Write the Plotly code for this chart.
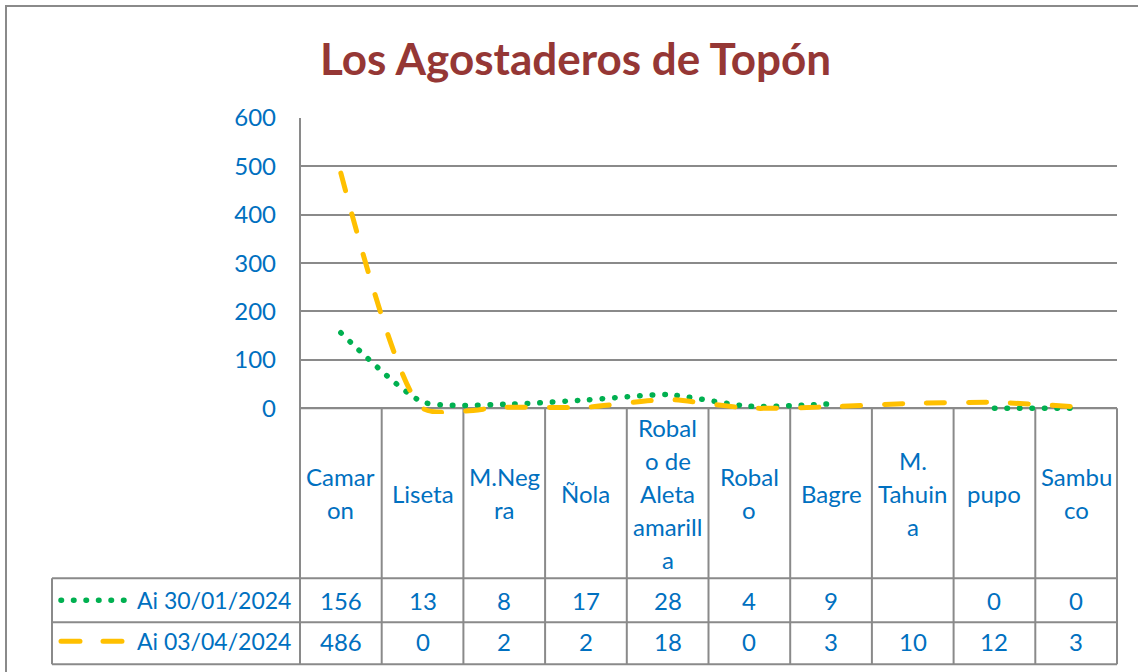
import plotly.graph_objects as go

# ---------------- data ----------------
CATEGORIES = ["Camaron", "Liseta", "M.Negra", "Ñola", "Robalo de Aleta amarilla",
              "Robalo", "Bagre", "M. Tahuina", "pupo", "Sambuco"]
CATEGORY_LINES = [["Camar", "on"], ["Liseta"], ["M.Neg", "ra"], ["Ñola"],
                  ["Robal", "o de", "Aleta", "amarill", "a"], ["Robal", "o"],
                  ["Bagre"], ["M.", "Tahuin", "a"], ["pupo"], ["Sambu", "co"]]
SERIES_NAMES = ["Ai 30/01/2024", "Ai 03/04/2024"]
AI_30_01_2024 = [156, 13, 8, 17, 28, 4, 9, None, 0, 0]
AI_03_04_2024 = [486, 0, 2, 2, 18, 0, 3, 10, 12, 3]
Y_TICKS = [0, 100, 200, 300, 400, 500, 600]

# ---------------- layout geometry (pixels) ----------------
W, H = 1138, 672
L, R, T, ZERO = 300, 1117, 118, 408
Y_MIN, Y_MAX = -12, 600
PX_PER_UNIT = (ZERO - T) / Y_MAX
B = ZERO - Y_MIN * PX_PER_UNIT          # bottom of plotting area (slightly below 0)
PW, PH = R - L, B - T

def px(x):
    return (x - L) / PW

def py(y):
    return (B - y) / PH

BLUE = "#0070C0"
GRID = "#8A8A8A"
GREEN = "#00B050"
YELLOW = "#FFC000"
FONT = "Lato"
FS = 24
GREEN_DASH = "0.5px,12px"
YELLOW_DASH = "18px,24px"

n = len(CATEGORIES)
x_idx = list(range(n))

fig = go.Figure()
fig.add_trace(go.Scatter(x=x_idx, y=AI_30_01_2024, mode="lines", name=SERIES_NAMES[0],
                         line=dict(color=GREEN, width=5.5, dash=GREEN_DASH, shape="spline",
                                   smoothing=0.6),
                         connectgaps=False, showlegend=False))
fig.add_trace(go.Scatter(x=x_idx, y=AI_03_04_2024, mode="lines", name=SERIES_NAMES[1],
                         line=dict(color=YELLOW, width=5, dash=YELLOW_DASH, shape="spline",
                                   smoothing=0.6),
                         connectgaps=False, showlegend=False))

shapes = []
def hline(y, x0, x1, w=2):
    shapes.append(dict(type="line", xref="paper", yref="paper", x0=px(x0), x1=px(x1),
                       y0=py(y), y1=py(y), line=dict(color=GRID, width=w), layer="below"))
def vline(x, y0, y1, w=2):
    shapes.append(dict(type="line", xref="paper", yref="paper", x0=px(x), x1=px(x),
                       y0=py(y0), y1=py(y1), line=dict(color=GRID, width=w), layer="below"))

# outer chart border
shapes.append(dict(type="rect", xref="paper", yref="paper", x0=px(6), x1=px(1160),
                   y0=py(690), y1=py(6), line=dict(color=GRID, width=2), layer="below"))

ROW1, ROW2, ROW3 = 578, 622, 664
LEG_L = 52
# table lines
vline(L, T, ROW3)
vline(R, ZERO, ROW3)
for i in range(1, n):
    vline(L + i * PW / n, ZERO, ROW3)
vline(LEG_L, ROW1, ROW3)
hline(ZERO, L, R)
for y in (ROW1, ROW2, ROW3):
    hline(y, LEG_L, R)

# legend keys
shapes.append(dict(type="line", xref="paper", yref="paper", x0=px(61), x1=px(128),
                   y0=py(600), y1=py(600), line=dict(color=GREEN, width=5.5, dash=GREEN_DASH)))
shapes.append(dict(type="line", xref="paper", yref="paper", x0=px(61), x1=px(122),
                   y0=py(641), y1=py(641), line=dict(color=YELLOW, width=5, dash="19px,23px")))

annotations = []
# title
annotations.append(dict(text="<b>Los Agostaderos de Topón</b>", xref="paper", yref="paper",
                        x=px(575), y=py(58), showarrow=False, xanchor="center", yanchor="middle",
                        font=dict(family=FONT, size=44, color="#953735")))
# category labels
LINE_STEP = 33
CELL_MID = (ZERO + ROW1) / 2
for i, lines in enumerate(CATEGORY_LINES):
    k = len(lines)
    for j, t in enumerate(lines):
        yy = CELL_MID + (j - (k - 1) / 2) * LINE_STEP
        annotations.append(dict(text=t, xref="x", yref="paper", x=i, y=py(yy), showarrow=False,
                                xanchor="center", yanchor="middle",
                                font=dict(family=FONT, size=FS, color=BLUE)))
# value rows
for series, name, yc in ((AI_30_01_2024, SERIES_NAMES[0], 600),
                         (AI_03_04_2024, SERIES_NAMES[1], 641)):
    annotations.append(dict(text=name, xref="paper", yref="paper", x=px(293), y=py(yc),
                            showarrow=False, xanchor="right", yanchor="middle",
                            font=dict(family=FONT, size=23, color=BLUE)))
    for i, v in enumerate(series):
        annotations.append(dict(text="" if v is None else str(v), xref="x", yref="paper",
                                x=i, y=py(yc), showarrow=False, xanchor="center",
                                yanchor="middle", font=dict(family=FONT, size=FS, color=BLUE)))

fig.update_layout(
    width=W, height=H,
    margin=dict(l=L, r=W - R, t=T, b=H - B, pad=0),
    paper_bgcolor="white", plot_bgcolor="rgba(0,0,0,0)",
    xaxis=dict(range=[-0.5, n - 0.5], showgrid=False, zeroline=False, showticklabels=False,
               showline=False, fixedrange=True),
    yaxis=dict(range=[Y_MIN, Y_MAX], tickvals=Y_TICKS, showgrid=True, gridcolor=GRID,
               gridwidth=2, zeroline=False, showline=False, ticks="", ticklabelstandoff=23,
               tickfont=dict(family=FONT, size=FS, color=BLUE), fixedrange=True),
    shapes=shapes, annotations=annotations, showlegend=False,
)

post = """
document.body.style.margin='0px';
document.body.style.overflow='hidden';
function roundCaps(){
  document.querySelectorAll('.scatterlayer path.js-line').forEach(function(p){
    p.style.strokeLinecap='round';
  });
  document.querySelectorAll('.shapelayer path').forEach(function(p){
    var s=(p.style.stroke||'').replace(/\\s/g,'');
    if(s.indexOf('0,176,80')>=0||s.indexOf('255,192,0')>=0){p.style.strokeLinecap='round';}
  });
}
roundCaps();
setTimeout(roundCaps, 50);
"""
fig.write_html("out.html", post_script=post, config={"displayModeBar": False})
